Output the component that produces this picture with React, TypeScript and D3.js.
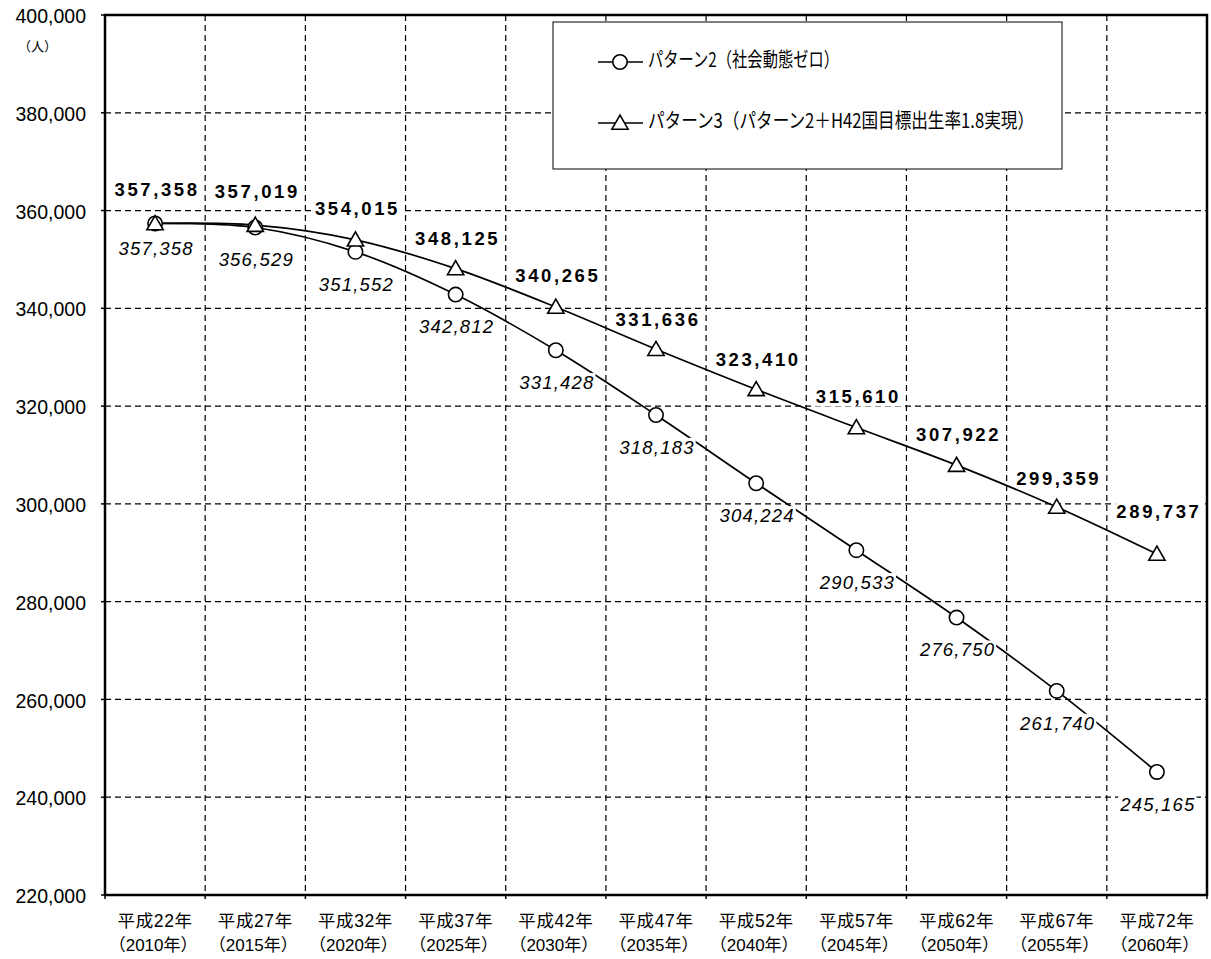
import React, { useEffect, useRef } from "react";
import * as d3 from "d3";

const eraLabels = ["平成22年", "平成27年", "平成32年", "平成37年", "平成42年", "平成47年", "平成52年", "平成57年", "平成62年", "平成67年", "平成72年"];
const yearLabels = ["（2010年）", "（2015年）", "（2020年）", "（2025年）", "（2030年）", "（2035年）", "（2040年）", "（2045年）", "（2050年）", "（2055年）", "（2060年）"];
const pattern2 = [357358, 356529, 351552, 342812, 331428, 318183, 304224, 290533, 276750, 261740, 245165];
const pattern3 = [357358, 357019, 354015, 348125, 340265, 331636, 323410, 315610, 307922, 299359, 289737];
const yTicks = [220000, 240000, 260000, 280000, 300000, 320000, 340000, 360000, 380000, 400000];
const legendNames = ["パターン2（社会動態ゼロ）", "パターン3（パターン2＋H42国目標出生率1.8実現）"];

// label placement (layout only)
const p3LabelDy = [-32, -32, -30, -29, -30, -28, -28, -29, -29, -27, -41];
const p2LabelDy = [27, 34, 34, 34, 34, 34, 34, 34, 34, 34, 34];

const W = 1211, H = 959;
const L = 105, R = 1207, T = 15, B = 895;
const NUM_FONT = "'Liberation Sans', Arial, 'Noto Sans CJK JP', sans-serif";
const JP_FONT = "'Liberation Sans', Arial, 'Noto Sans CJK JP', sans-serif";

export default function App() {
  const ref = useRef<SVGSVGElement>(null);
  useEffect(() => {
    const svg = d3.select(ref.current);
    svg.selectAll("*").remove();
    const x = d3.scaleBand<number>().domain(d3.range(eraLabels.length)).range([L, R]).paddingInner(0).paddingOuter(0);
    const y = d3.scaleLinear().domain([220000, 400000]).range([B, T]);
    const cx = (i: number) => (x(i) as number) + x.bandwidth() / 2;

    svg.append("rect").attr("width", W).attr("height", H).attr("fill", "#fff");

    // gridlines
    const g = svg.append("g");
    yTicks.slice(1, -1).forEach((v) => {
      g.append("line").attr("x1", L).attr("x2", R).attr("y1", y(v)).attr("y2", y(v))
        .attr("stroke", "#000").attr("stroke-width", 1.2).attr("stroke-dasharray", "6,4");
    });
    d3.range(1, eraLabels.length).forEach((i) => {
      const xx = x(i) as number;
      g.append("line").attr("x1", xx).attr("x2", xx).attr("y1", T).attr("y2", B)
        .attr("stroke", "#000").attr("stroke-width", 1.2).attr("stroke-dasharray", "6,4");
    });
    // ticks
    yTicks.forEach((v) => {
      g.append("line").attr("x1", L - 4).attr("x2", L).attr("y1", y(v)).attr("y2", y(v)).attr("stroke", "#000").attr("stroke-width", 1.5);
    });
    d3.range(0, eraLabels.length + 1).forEach((i) => {
      const xx = i === eraLabels.length ? R : (x(i) as number);
      g.append("line").attr("x1", xx).attr("x2", xx).attr("y1", B).attr("y2", B + 4).attr("stroke", "#000").attr("stroke-width", 1.5);
    });

    // y labels
    yTicks.forEach((v) => {
      svg.append("text").attr("x", 86).attr("y", y(v) + 3).attr("text-anchor", "end").attr("dominant-baseline", "middle")
        .attr("font-family", NUM_FONT).attr("font-size", 19.5).attr("fill", "#000").text(d3.format(",")(v));
    });
    svg.append("text").attr("x", 18).attr("y", 47).attr("dominant-baseline", "middle")
      .attr("font-family", "'Noto Sans CJK JP', sans-serif").attr("font-size", 13).text("（人）");

    // x labels
    eraLabels.forEach((t, i) => {
      svg.append("text").attr("x", cx(i)).attr("y", 922).attr("text-anchor", "middle").attr("dominant-baseline", "middle")
        .attr("font-family", JP_FONT).attr("font-size", 17.5).attr("letter-spacing", 0.6).text(t);
      svg.append("text").attr("x", cx(i) - 2).attr("y", 947).attr("text-anchor", "middle").attr("dominant-baseline", "middle")
        .attr("font-family", JP_FONT).attr("font-size", 17).text(yearLabels[i]);
    });

    // lines
    const line = d3.line<number>().x((_, i) => cx(i)).y((v) => y(v)).curve(d3.curveCardinal.tension(0));
    svg.append("path").attr("d", line(pattern2)).attr("fill", "none").attr("stroke", "#000").attr("stroke-width", 1.7);
    svg.append("path").attr("d", line(pattern3)).attr("fill", "none").attr("stroke", "#000").attr("stroke-width", 1.7);

    // markers
    const tri = d3.symbol().type(d3.symbolTriangle).size(115);
    const drawCircle = (sel: any, px: number, py: number) =>
      sel.append("circle").attr("cx", px).attr("cy", py).attr("r", 7.2).attr("fill", "#fff").attr("stroke", "#000").attr("stroke-width", 1.6);
    const drawTri = (sel: any, px: number, py: number) =>
      sel.append("path").attr("d", tri()).attr("transform", `translate(${px},${py + 1.5})`).attr("fill", "#fff").attr("stroke", "#000").attr("stroke-width", 1.6);
    pattern2.forEach((v, i) => drawCircle(svg, cx(i), y(v)));
    pattern3.forEach((v, i) => drawTri(svg, cx(i), y(v)));

    // data labels
    const addLabel = (px: number, py: number, text: string, bold: boolean) => {
      const grp = svg.append("g");
      const bg = grp.append("rect").attr("fill", "#fff");
      const t = grp.append("text").attr("x", px).attr("y", py).attr("text-anchor", "middle").attr("dominant-baseline", "middle")
        .attr("font-family", NUM_FONT).attr("font-size", 18.5)
        .attr("font-weight", bold ? "bold" : "normal").attr("font-style", bold ? "normal" : "italic")
        .attr("letter-spacing", bold ? 2.6 : 1.2).attr("fill", "#000").text(text);
      const bb = (t.node() as SVGTextElement).getBBox();
      bg.attr("x", bb.x - 1).attr("y", bb.y + 1).attr("width", bb.width + 2).attr("height", bb.height - 2);
    };
    pattern3.forEach((v, i) => addLabel(cx(i) + 2, y(v) + p3LabelDy[i], d3.format(",")(v), true));
    pattern2.forEach((v, i) => addLabel(cx(i) + 1, y(v) + p2LabelDy[i], d3.format(",")(v), false));

    // frame
    svg.append("rect").attr("x", L).attr("y", T).attr("width", R - L).attr("height", B - T)
      .attr("fill", "none").attr("stroke", "#000").attr("stroke-width", 2.5);

    // legend
    const lg = svg.append("g");
    lg.append("rect").attr("x", 553).attr("y", 22).attr("width", 509).attr("height", 147)
      .attr("fill", "#fff").attr("stroke", "#000").attr("stroke-width", 1);
    const ly = [62, 123];
    const lw = [191, 386];
    legendNames.forEach((name, i) => {
      lg.append("line").attr("x1", 598).attr("x2", 643).attr("y1", ly[i]).attr("y2", ly[i]).attr("stroke", "#000").attr("stroke-width", 1.7);
      if (i === 0) drawCircle(lg, 620, ly[i]);
      else drawTri(lg, 620, ly[i]);
      lg.append("text").attr("x", 648).attr("y", ly[i]).attr("dominant-baseline", "middle")
        .attr("font-family", "'Noto Sans CJK JP', sans-serif").attr("font-size", 20)
        .attr("textLength", lw[i]).attr("lengthAdjust", "spacingAndGlyphs").text(name);
    });
  }, []);
  return <svg ref={ref} width={W} height={H} style={{ position: "absolute", left: 0, top: 0 }} />;
}
